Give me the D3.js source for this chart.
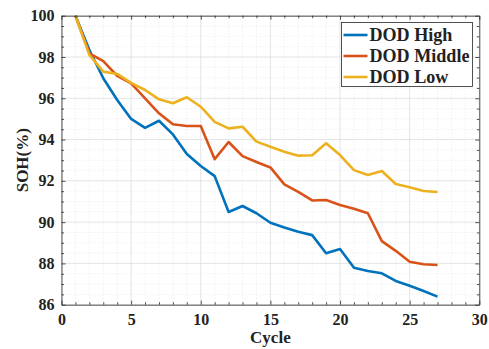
<!DOCTYPE html>
<html>
<head>
<meta charset="utf-8">
<script src="https://cdn.jsdelivr.net/npm/d3@7"></script>
<style>
html,body{margin:0;padding:0;background:#fff;}
svg{display:block;}
text{font-family:"Liberation Serif","Times New Roman",serif;font-weight:bold;fill:#222;}
</style>
</head>
<body>
<svg id="chart" width="489" height="349"></svg>
<script>
const cycles = d3.range(1, 28);
const dodHigh = [100, 98.34, 96.97, 95.92, 95.0, 94.57, 94.91, 94.25, 93.3, 92.72, 92.23, 90.49, 90.78, 90.43, 89.97, 89.74, 89.53, 89.37, 88.49, 88.7, 87.79, 87.63, 87.52, 87.15, 86.92, 86.66, 86.39];
const dodMiddle = [100, 98.18, 97.8, 97.08, 96.72, 96.0, 95.27, 94.74, 94.66, 94.66, 93.05, 93.88, 93.2, 92.91, 92.65, 91.83, 91.47, 91.05, 91.07, 90.83, 90.65, 90.43, 89.08, 88.61, 88.08, 87.96, 87.92];
const dodLow = [100, 98.1, 97.29, 97.18, 96.75, 96.4, 95.95, 95.76, 96.05, 95.59, 94.86, 94.54, 94.62, 93.9, 93.65, 93.41, 93.22, 93.24, 93.82, 93.25, 92.52, 92.28, 92.48, 91.85, 91.69, 91.51, 91.46];
const seriesNames = ["DOD High", "DOD Middle", "DOD Low"];
const seriesColors = ["#0072BD", "#D95319", "#EDB120"];
const xTicks = [0, 5, 10, 15, 20, 25, 30];
const yTicks = [86, 88, 90, 92, 94, 96, 98, 100];

const svg = d3.select("#chart");
const L = 61.5, R = 479.3, T = 15.7, B = 304.7;
const x = d3.scaleLinear().domain([0, 30]).range([L, R]);
const y = d3.scaleLinear().domain([86, 100]).range([B, T]);

// minor grid
const xMinor = d3.range(0, 31, 1).filter(v => v % 5 !== 0);
const yMinor = d3.range(86, 100.01, 0.5).filter(v => v % 2 !== 0);
const g = svg.append("g");
g.selectAll(".xmg").data(xMinor).join("line")
  .attr("x1", d => x(d)).attr("x2", d => x(d)).attr("y1", T).attr("y2", B)
  .attr("stroke", "#e6e6e6").attr("stroke-width", 0.8).attr("stroke-dasharray", "1,2");
g.selectAll(".ymg").data(yMinor).join("line")
  .attr("x1", L).attr("x2", R).attr("y1", d => y(d)).attr("y2", d => y(d))
  .attr("stroke", "#e6e6e6").attr("stroke-width", 0.8).attr("stroke-dasharray", "1,2");
// major grid
g.selectAll(".xg").data(xTicks).join("line")
  .attr("x1", d => x(d)).attr("x2", d => x(d)).attr("y1", T).attr("y2", B)
  .attr("stroke", "#dddddd").attr("stroke-width", 0.8);
g.selectAll(".yg").data(yTicks).join("line")
  .attr("x1", L).attr("x2", R).attr("y1", d => y(d)).attr("y2", d => y(d))
  .attr("stroke", "#dddddd").attr("stroke-width", 0.8);

// lines
const allSeries = [dodHigh, dodMiddle, dodLow];
const line = d3.line().x((d, i) => x(cycles[i])).y(d => y(d));
allSeries.forEach((s, k) => {
  svg.append("path").datum(s).attr("d", line)
    .attr("fill", "none").attr("stroke", seriesColors[k]).attr("stroke-width", 2.6)
    .attr("stroke-linejoin", "round");
});

// axes (ticks inside)
function styleAxis(sel) {
  sel.select(".domain").attr("stroke", "#262626").attr("stroke-width", 0.8);
  sel.selectAll(".tick line").attr("stroke", "#262626").attr("stroke-width", 0.8);
}
const fontSize = 16;
const xAxis = svg.append("g").attr("transform", `translate(0,${B})`)
  .call(d3.axisBottom(x).tickValues(xTicks).tickSizeInner(-4).tickSizeOuter(0).tickPadding(9));
styleAxis(xAxis);
xAxis.selectAll("text").style("font-size", fontSize + "px").style("font-family", "Liberation Serif").style("font-weight", "bold").attr("fill", "#262626");
const xAxisMinor = svg.append("g").attr("transform", `translate(0,${B})`)
  .call(d3.axisBottom(x).tickValues(xMinor).tickSize(-2.5).tickFormat(""));
styleAxis(xAxisMinor); xAxisMinor.select(".domain").remove();

const yAxis = svg.append("g").attr("transform", `translate(${L},0)`)
  .call(d3.axisLeft(y).tickValues(yTicks).tickSizeInner(-4).tickSizeOuter(0).tickPadding(7));
styleAxis(yAxis);
yAxis.selectAll("text").style("font-size", fontSize + "px").style("font-family", "Liberation Serif").style("font-weight", "bold").attr("fill", "#262626");
const yAxisMinor = svg.append("g").attr("transform", `translate(${L},0)`)
  .call(d3.axisLeft(y).tickValues(yMinor).tickSize(-2.5).tickFormat(""));
styleAxis(yAxisMinor); yAxisMinor.select(".domain").remove();

// top/right
const topAxis = svg.append("g").attr("transform", `translate(0,${T})`)
  .call(d3.axisTop(x).tickValues(xTicks).tickSizeInner(-4).tickSizeOuter(0).tickFormat(""));
styleAxis(topAxis);
const topMinor = svg.append("g").attr("transform", `translate(0,${T})`)
  .call(d3.axisTop(x).tickValues(xMinor).tickSize(-2.5).tickFormat(""));
styleAxis(topMinor); topMinor.select(".domain").remove();
const rightAxis = svg.append("g").attr("transform", `translate(${R},0)`)
  .call(d3.axisRight(y).tickValues(yTicks).tickSizeInner(-4).tickSizeOuter(0).tickFormat(""));
styleAxis(rightAxis);
const rightMinor = svg.append("g").attr("transform", `translate(${R},0)`)
  .call(d3.axisRight(y).tickValues(yMinor).tickSize(-2.5).tickFormat(""));
styleAxis(rightMinor); rightMinor.select(".domain").remove();

// axis titles
svg.append("text").attr("x", (L + R) / 2).attr("y", 343).attr("text-anchor", "middle")
  .style("font-size", "17px").text("Cycle");
svg.append("text").attr("transform", `translate(28,${(T + B) / 2}) rotate(-90)`)
  .attr("text-anchor", "middle").style("font-size", "17px").text("SOH(%)");

// legend
const lg = svg.append("g");
lg.append("rect").attr("x", 341.5).attr("y", 22.5).attr("width", 131).attr("height", 64)
  .attr("fill", "#fff").attr("stroke", "#262626").attr("stroke-width", 0.8);
const legTexts = [];
seriesNames.forEach((n, k) => {
  const yy = 35 + k * 21;
  lg.append("line").attr("x1", 343.5).attr("x2", 367.5).attr("y1", yy).attr("y2", yy)
    .attr("stroke", seriesColors[k]).attr("stroke-width", 2.6);
  legTexts.push(lg.append("text").attr("x", 369.5).attr("y", yy + 6).style("font-size", "18px").attr("fill", "#111").text(n));
});
// fit legend text width to the box (widest entry ~100px)
const widest = d3.max(legTexts, t => t.node().getComputedTextLength());
if (widest > 0) {
  const fs = Math.min(24, 18 * 100 / widest);
  legTexts.forEach(t => t.style("font-size", fs + "px"));
}
</script>
</body>
</html>
